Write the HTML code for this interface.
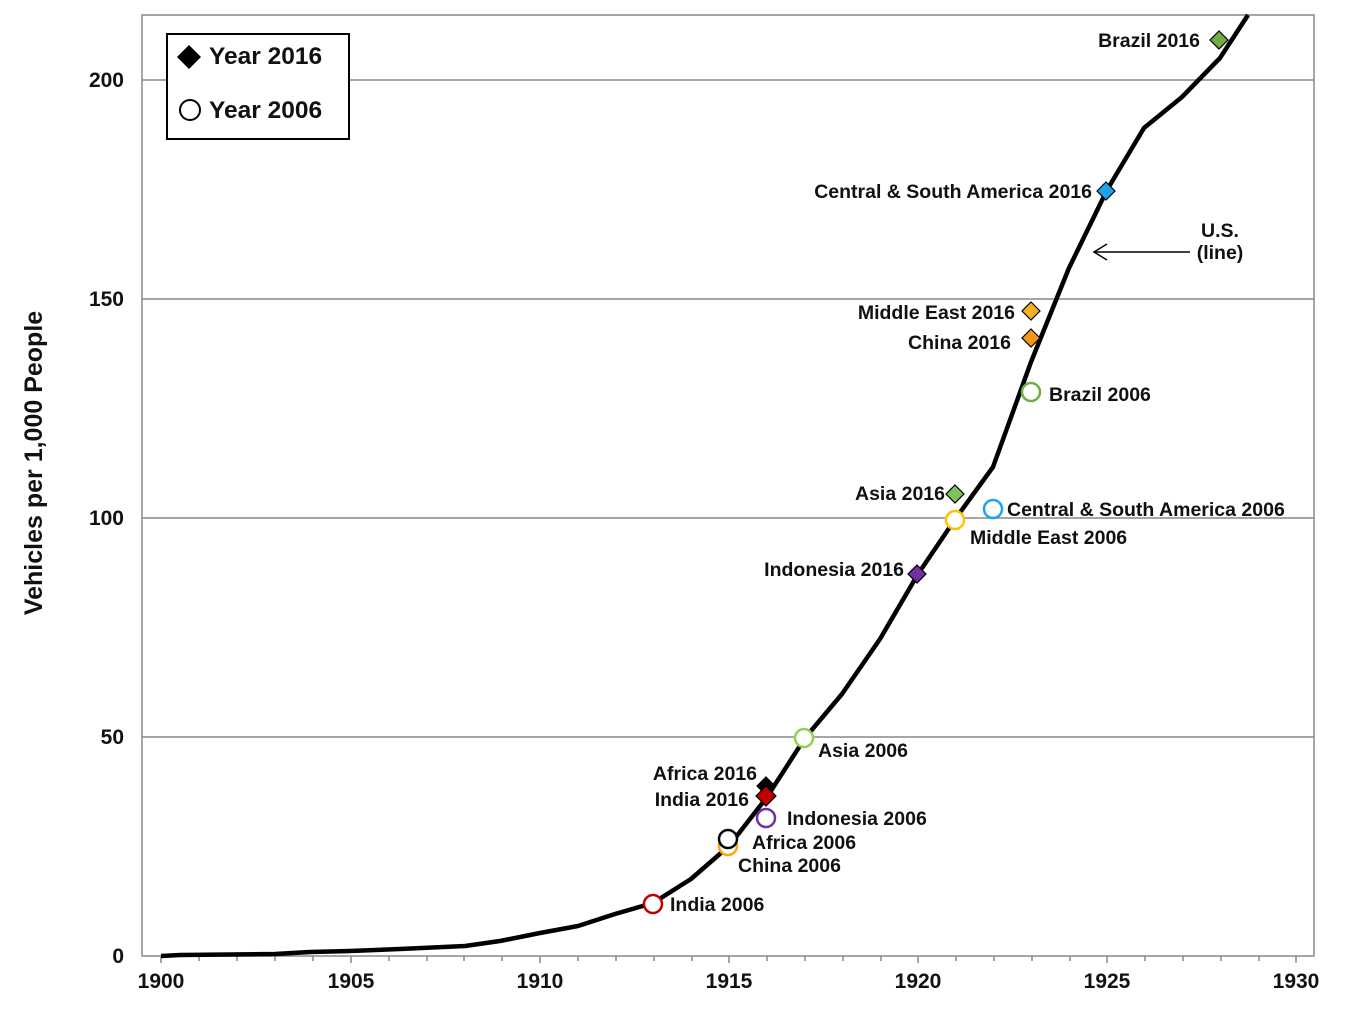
<!DOCTYPE html><html><head><style>body{margin:0;background:#fff}svg{display:block;font-family:"Liberation Sans",Arial,sans-serif;font-weight:bold}</style></head><body>
<svg width="1350" height="1020" viewBox="0 0 1350 1020">
<rect x="142" y="15" width="1172" height="941" fill="none" stroke="#888" stroke-width="1.5"/>
<g stroke="#888" stroke-width="1.5"><line x1="142" y1="80" x2="1314" y2="80"/><line x1="142" y1="299" x2="1314" y2="299"/><line x1="142" y1="518" x2="1314" y2="518"/><line x1="142" y1="737" x2="1314" y2="737"/></g>
<g stroke="#888" stroke-width="1.5">
<line x1="161" y1="956" x2="161" y2="963"/><line x1="199" y1="956" x2="199" y2="961"/><line x1="237" y1="956" x2="237" y2="961"/><line x1="275" y1="956" x2="275" y2="961"/><line x1="313" y1="956" x2="313" y2="961"/><line x1="351" y1="956" x2="351" y2="963"/><line x1="389" y1="956" x2="389" y2="961"/><line x1="427" y1="956" x2="427" y2="961"/><line x1="464" y1="956" x2="464" y2="961"/><line x1="502" y1="956" x2="502" y2="961"/><line x1="540" y1="956" x2="540" y2="963"/><line x1="578" y1="956" x2="578" y2="961"/><line x1="616" y1="956" x2="616" y2="961"/><line x1="654" y1="956" x2="654" y2="961"/><line x1="692" y1="956" x2="692" y2="961"/><line x1="729" y1="956" x2="729" y2="963"/><line x1="767" y1="956" x2="767" y2="961"/><line x1="805" y1="956" x2="805" y2="961"/><line x1="843" y1="956" x2="843" y2="961"/><line x1="881" y1="956" x2="881" y2="961"/><line x1="918" y1="956" x2="918" y2="963"/><line x1="956" y1="956" x2="956" y2="961"/><line x1="994" y1="956" x2="994" y2="961"/><line x1="1032" y1="956" x2="1032" y2="961"/><line x1="1070" y1="956" x2="1070" y2="961"/><line x1="1107" y1="956" x2="1107" y2="963"/><line x1="1145" y1="956" x2="1145" y2="961"/><line x1="1183" y1="956" x2="1183" y2="961"/><line x1="1221" y1="956" x2="1221" y2="961"/><line x1="1259" y1="956" x2="1259" y2="961"/><line x1="1296" y1="956" x2="1296" y2="963"/>
</g>
<g font-size="21" text-anchor="middle" fill="#111"><text x="161" y="988">1900</text><text x="351" y="988">1905</text><text x="540" y="988">1910</text><text x="729" y="988">1915</text><text x="918" y="988">1920</text><text x="1107" y="988">1925</text><text x="1296" y="988">1930</text></g>
<g font-size="21" text-anchor="end" fill="#111"><text x="124" y="963">0</text><text x="124" y="744">50</text><text x="124" y="525">100</text><text x="124" y="306">150</text><text x="124" y="87">200</text></g>
<text transform="translate(42,463) rotate(-90)" font-size="25" text-anchor="middle" fill="#111">Vehicles per 1,000 People</text>
<polyline fill="none" stroke="#000" stroke-width="4.5" stroke-linejoin="round" points="161,956 180,955 275,954 310,952 350,951 400,949 465,946 500,941 540,933 578,926 615,914 653,903 691,879 729,846 767,797 805,738 842,694 880,639 918,574 956,518 993,467 1031,362 1069,268 1107,190 1144,128 1182,97 1220,58 1248,15"/>
<g stroke="#000" stroke-width="1.2">
<path d="M1219,31l9,9l-9,9l-9,-9z" fill="#70AD47"/>
<path d="M1106,182l9,9l-9,9l-9,-9z" fill="#1CA3EC"/>
<path d="M1031,302l9,9l-9,9l-9,-9z" fill="#F5B323"/>
<path d="M1031,329l9,9l-9,9l-9,-9z" fill="#F39A1A"/>
<path d="M955,485l9,9l-9,9l-9,-9z" fill="#7CC35A"/>
<path d="M917,565l9,9l-9,9l-9,-9z" fill="#7030A0"/>
<path d="M766,777l9,9l-9,9l-9,-9z" fill="#000"/>
<path d="M766,786l10,10l-10,10l-10,-10z" fill="#C00000"/>
</g>
<g fill="#fff" stroke-width="2.5">
<circle cx="1031" cy="392" r="9" stroke="#70AD47"/>
<circle cx="993" cy="509" r="9" stroke="#1CA3EC"/>
<circle cx="955" cy="520" r="9" stroke="#FFC000"/>
<circle cx="804" cy="738" r="9" stroke="#92D050"/>
<circle cx="766" cy="818" r="9" stroke="#7030A0"/>
<circle cx="728" cy="846" r="9" stroke="#FFA500"/>
<circle cx="728" cy="839" r="9" stroke="#000"/>
<circle cx="653" cy="904" r="9" stroke="#C00000"/>
</g>
<g font-size="19.5" fill="#111">
<text x="1200" y="47" text-anchor="end">Brazil 2016</text>
<text x="1092" y="198" text-anchor="end">Central &amp; South America 2016</text>
<text x="1015" y="319" text-anchor="end">Middle East 2016</text>
<text x="1011" y="349" text-anchor="end">China 2016</text>
<text x="1049" y="401">Brazil 2006</text>
<text x="945" y="500" text-anchor="end">Asia 2016</text>
<text x="1007" y="516">Central &amp; South America 2006</text>
<text x="970" y="544">Middle East 2006</text>
<text x="904" y="576" text-anchor="end">Indonesia 2016</text>
<text x="818" y="757">Asia 2006</text>
<text x="757" y="780" text-anchor="end">Africa 2016</text>
<text x="749" y="806" text-anchor="end">India 2016</text>
<text x="787" y="825">Indonesia 2006</text>
<text x="752" y="849">Africa 2006</text>
<text x="738" y="872">China 2006</text>
<text x="670" y="911">India 2006</text>
<text x="1220" y="237" text-anchor="middle">U.S.</text>
<text x="1220" y="259" text-anchor="middle">(line)</text>
</g>
<line x1="1190" y1="252" x2="1095" y2="252" stroke="#000" stroke-width="1.5"/>
<polyline points="1107,244 1094,252 1107,260" fill="none" stroke="#000" stroke-width="1.5"/>
<rect x="167" y="34" width="182" height="105" fill="#fff" stroke="#000" stroke-width="2"/>
<path d="M189,45l12,12l-12,12l-12,-12z" fill="#000"/>
<circle cx="190" cy="110" r="10" fill="#fff" stroke="#000" stroke-width="2"/>
<g font-size="24.5" fill="#111"><text x="209" y="64">Year 2016</text><text x="209" y="118">Year 2006</text></g>
</svg></body></html>
